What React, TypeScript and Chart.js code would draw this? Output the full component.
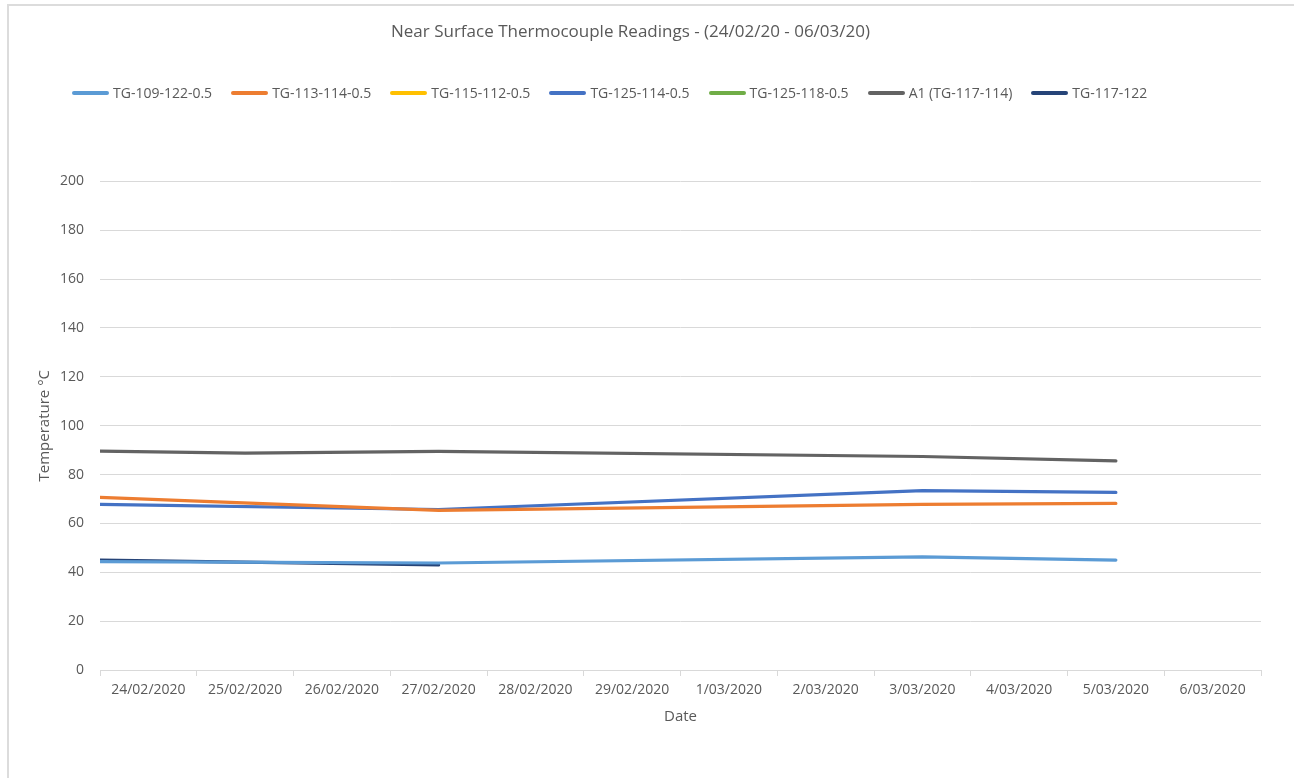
import React, { useEffect, useRef } from "react";
import { Chart, registerables } from "chart.js";

Chart.register(...registerables);

const categories = [
  "24/02/2020", "25/02/2020", "26/02/2020", "27/02/2020", "28/02/2020", "29/02/2020",
  "1/03/2020", "2/03/2020", "3/03/2020", "4/03/2020", "5/03/2020", "6/03/2020",
];

// x positions are category indices (0 = 24/02/2020); -0.5 is the left edge of the axis
const commonX = [-0.5, 3, 8, 10];
const a1X = [-0.5, 1, 3, 8, 10];
const tg117X = [-0.5, 3];

const tg109 = [44.4, 43.8, 46.3, 45.0];
const tg113 = [70.7, 65.3, 67.8, 68.2];
const tg115: number[] = [];
const tg125_114 = [67.8, 65.7, 73.4, 72.7];
const tg125_118: number[] = [];
const a1 = [89.6, 88.8, 89.5, 87.4, 85.6];
const tg117 = [45.0, 43.0];

const yTicks = { min: 0, max: 200, step: 20 };

const seriesDefs = [
  { label: "TG-109-122-0.5", color: "#5B9BD5", xs: commonX, ys: tg109 },
  { label: "TG-113-114-0.5", color: "#ED7D31", xs: commonX, ys: tg113 },
  { label: "TG-115-112-0.5", color: "#FFC000", xs: commonX, ys: tg115 },
  { label: "TG-125-114-0.5", color: "#4472C4", xs: commonX, ys: tg125_114 },
  { label: "TG-125-118-0.5", color: "#70AD47", xs: commonX, ys: tg125_118 },
  { label: "A1 (TG-117-114)", color: "#636363", xs: a1X, ys: a1 },
  { label: "TG-117-122", color: "#264478", xs: tg117X, ys: tg117 },
];

const TEXT = "#595959";
const GRID = "#d9d9d9";
const FONT = "'Open Sans', 'DejaVu Sans', sans-serif";

export default function App() {
  const canvasRef = useRef<HTMLCanvasElement | null>(null);

  useEffect(() => {
    if (!canvasRef.current) return;
    const datasets = seriesDefs.map((s) => ({
      label: s.label,
      data: s.ys.map((y, i) => ({ x: s.xs[i], y })),
      borderColor: s.color,
      backgroundColor: s.color,
      borderWidth: 3.2,
      pointRadius: 0,
      tension: 0,
      borderCapStyle: "round" as const,
      borderJoinStyle: "round" as const,
    }));

    const chart = new Chart(canvasRef.current, {
      type: "line",
      data: { datasets },
      options: {
        animation: false,
        responsive: false,
        maintainAspectRatio: false,
        layout: { padding: { left: 0, right: 33, top: 0, bottom: 0 } },
        plugins: {
          legend: { display: false },
          tooltip: { enabled: false },
          title: {
            display: true,
            text: "Near Surface Thermocouple Readings - (24/02/20 - 06/03/20)",
            color: TEXT,
            font: { family: FONT, size: 17, weight: "normal" },
            padding: { top: 22, bottom: 139 },
          },
        },
        scales: {
          x: {
            type: "linear",
            min: -0.5,
            max: categories.length - 0.5,
            afterBuildTicks: (scale: any) => {
              const t = [];
              for (let v = -0.5; v <= categories.length - 0.5 + 1e-9; v += 0.5) t.push({ value: v });
              scale.ticks = t;
            },
            afterFit: (scale: any) => {
              scale.height = 108;
            },
            ticks: {
              autoSkip: false,
              maxRotation: 0,
              minRotation: 0,
              color: TEXT,
              padding: 6,
              font: { family: FONT, size: 14 },
              callback: (v: any) => (Number.isInteger(v) ? categories[v] : ""),
            },
            grid: {
              drawOnChartArea: false,
              drawTicks: true,
              tickLength: 6,
              color: (ctx: any) =>
                ctx.tick && Number.isInteger(ctx.tick.value) ? "rgba(0,0,0,0)" : GRID,
            },
            border: { display: true, color: GRID, width: 1 },
            title: {
              display: true,
              text: "Date",
              color: TEXT,
              font: { family: FONT, size: 15 },
              padding: { top: 0, bottom: 52 },
            },
          },
          y: {
            min: yTicks.min,
            max: yTicks.max,
            afterFit: (scale: any) => {
              scale.width = 100;
            },
            ticks: {
              stepSize: yTicks.step,
              color: TEXT,
              padding: 16,
              font: { family: FONT, size: 14 },
            },
            grid: { color: GRID, drawTicks: false, lineWidth: 1 },
            border: { display: false },
            title: {
              display: true,
              text: "Temperature °C",
              color: TEXT,
              font: { family: FONT, size: 15 },
              padding: { top: 36, bottom: 0 },
            },
          },
        },
      },
    });
    return () => chart.destroy();
  }, []);

  return (
    <div style={{ position: "fixed", left: 0, top: 0, width: 1294, height: 778, background: "#fff", overflow: "hidden" }}>
      <div
        style={{
          position: "absolute",
          left: 7,
          top: 4,
          width: 1400,
          height: 900,
          borderLeft: "2px solid #dcdcdc",
          borderTop: "2px solid #dcdcdc",
        }}
      />
      <canvas ref={canvasRef} width={1294} height={778} style={{ position: "absolute", left: 0, top: 0, width: 1294, height: 778 }} />
      <div
        style={{
          position: "absolute",
          left: 72,
          top: 83,
          display: "flex",
          alignItems: "center",
          fontFamily: FONT,
          fontSize: 14,
          lineHeight: "20px",
          color: TEXT,
          whiteSpace: "nowrap",
        }}
      >
        {seriesDefs.map((s) => (
          <div key={s.label} style={{ display: "flex", alignItems: "center", marginRight: 19 }}>
            <span style={{ display: "inline-block", width: 37, height: 4, borderRadius: 2, background: s.color, marginRight: 4 }} />
            <span>{s.label}</span>
          </div>
        ))}
      </div>
    </div>
  );
}
